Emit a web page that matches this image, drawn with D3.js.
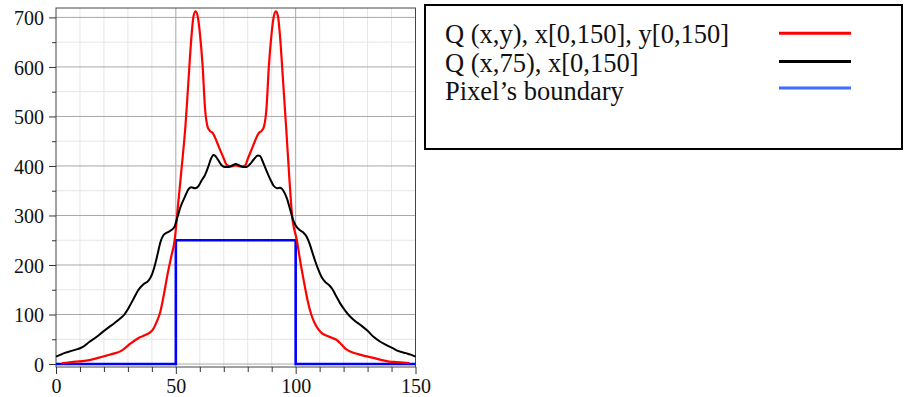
<!DOCTYPE html>
<html>
<head>
<meta charset="utf-8">
<script src="https://cdn.jsdelivr.net/npm/d3@7"></script>
<style>
  html, body { margin: 0; padding: 0; background: #fff; }
  svg { display: block; font-family: "Liberation Serif", "Times New Roman", serif; }
  .grid-minor line { stroke: #e6e6e6; stroke-width: 1; }
  .grid-major line { stroke: #a8a8a8; stroke-width: 1; }
  .axis path { display: none; }
  .axis line { stroke: #333; }
  .legend text { font-size: 26.5px; fill: #111; }
</style>
</head>
<body>
<svg id="chart" width="904" height="397"></svg>
<script>
// Q(x,y) over the whole window, x[0,150], y[0,150]
const redCurve = [
  [2.5, 2], [5, 3], [8, 5], [11, 6], [14, 8], [18, 13], [21, 17], [24, 21], [27, 26],
  [29, 33], [31, 41], [33, 48], [35, 54], [37, 58], [39, 63], [40.5, 70], [42, 85],
  [43.5, 105], [45, 140], [46.5, 180], [48, 215], [49.5, 250], [51, 325], [52.5, 400],
  [54, 480], [55.2, 567], [56.5, 660], [57.4, 703], [58.3, 712], [59.2, 700], [60.1, 665],
  [61.2, 600], [62.2, 515], [63.2, 480], [64.2, 471], [65.5, 466], [67, 450], [68.5, 432],
  [70, 415], [71.2, 402], [73, 399], [75, 401], [77, 399], [78.9, 401], [80, 414],
  [81.5, 432], [83, 450], [84.5, 466], [85.8, 471], [86.8, 480], [87.8, 515], [88.8, 600],
  [89.9, 665], [90.8, 700], [91.7, 712], [92.6, 703], [93.5, 660], [94.8, 567], [96, 480],
  [97.3, 380], [98.5, 300], [100.5, 250], [102, 205], [103.5, 165], [105, 128], [106.5, 100],
  [108, 82], [109.5, 70], [111, 62], [113, 57], [115, 53], [117, 49], [119, 40], [121, 30],
  [123.5, 24], [126, 20], [129, 16], [132, 13], [136, 8], [139, 5], [142, 4], [145, 3],
  [147.5, 2]
];

// Q(x,75), x[0,150]
const blackCurve = [
  [0, 15], [2, 19], [4, 23], [6, 26], [9, 30], [11, 34], [14, 45], [17, 55], [19.5, 65],
  [22, 74], [24.5, 83], [27, 93], [28.5, 100], [30.5, 115], [32.5, 133], [34.3, 149],
  [36.5, 161], [38.5, 168], [39.8, 178], [41, 195], [42.3, 220], [43.5, 245], [44.8, 260],
  [46.5, 266], [48, 270], [49.5, 278], [50.5, 294], [52, 318], [53.8, 338], [55.3, 353],
  [56.5, 357], [58, 355], [59.4, 359], [60.8, 371], [62.2, 382], [63.5, 398], [64.7, 415],
  [65.7, 422], [66.5, 420], [67.5, 413], [69, 402], [70.5, 398], [72, 398], [73.5, 401],
  [75, 404], [76.5, 401], [78, 398], [79.5, 398], [81, 404], [82.5, 413], [84.2, 421],
  [85.2, 420], [86, 412], [87, 400], [88.3, 385], [89.5, 372], [90.8, 360], [92.2, 355],
  [93.5, 356], [95, 349], [96.3, 335], [97.7, 312], [99, 290], [100, 280], [101.8, 270],
  [103.3, 265], [104.6, 257], [105.8, 243], [107, 225], [108.2, 207], [109.5, 190],
  [111, 174], [112.5, 165], [114, 159], [115.2, 152], [116.8, 138], [118.5, 123],
  [120.5, 109], [122.5, 97], [125, 86], [127, 79], [130, 67], [132.5, 55], [135, 46],
  [137.5, 39], [140.5, 32], [143, 26], [146, 22], [148, 19], [150, 15]
];

// pixel boundary step
const boundaryX = [0, 50, 50, 100, 100, 150];
const boundaryY = [0, 0, 250, 250, 0, 0];

const xMajorTicks = [0, 50, 100, 150];
const xMinorTicks = [10, 20, 30, 40, 60, 70, 80, 90, 110, 120, 130, 140];
const yMajorTicks = [0, 100, 200, 300, 400, 500, 600, 700];
const yMinorTicks = [50, 150, 250, 350, 450, 550, 650];

const legendLabels = ["Q (x,y), x[0,150], y[0,150]", "Q (x,75), x[0,150]", "Pixel\u2019s boundary"];
const legendColors = ["#ff0000", "#000000", "#3d6cff"];

(() => {
  const svg = d3.select("#chart");
  const serif = '"Liberation Serif", "Times New Roman", serif';

  const plot = { left: 56, right: 415.5, top: 8, bottom: 367 };

  const x = d3.scaleLinear().domain([0, 150]).range([plot.left, plot.right]);
  const y = d3.scaleLinear().domain([-6, 719]).range([plot.bottom, plot.top]);

  // grid, minor first then major
  const minor = svg.append("g").attr("class", "grid-minor");
  minor.selectAll("line.v").data(xMinorTicks).join("line")
    .attr("class", "v")
    .attr("x1", d => x(d)).attr("x2", d => x(d))
    .attr("y1", plot.top).attr("y2", plot.bottom);
  minor.selectAll("line.h").data(yMinorTicks).join("line")
    .attr("class", "h")
    .attr("x1", plot.left).attr("x2", plot.right)
    .attr("y1", d => y(d)).attr("y2", d => y(d));

  const major = svg.append("g").attr("class", "grid-major");
  major.selectAll("line.v").data(xMajorTicks.slice(1, -1)).join("line")
    .attr("class", "v")
    .attr("x1", d => x(d)).attr("x2", d => x(d))
    .attr("y1", plot.top).attr("y2", plot.bottom);
  major.selectAll("line.h").data(yMajorTicks).join("line")
    .attr("class", "h")
    .attr("x1", plot.left).attr("x2", plot.right)
    .attr("y1", d => y(d)).attr("y2", d => y(d));

  // frame
  svg.append("rect")
    .attr("x", plot.left).attr("y", plot.top)
    .attr("width", plot.right - plot.left).attr("height", plot.bottom - plot.top)
    .attr("fill", "none").attr("stroke", "#444").attr("stroke-width", 1);

  // axes (d3 puts sans-serif on the group, so override it there and on the texts)
  const styleLabels = g => {
    g.attr("font-family", serif).attr("font-size", 20);
    g.selectAll("text")
      .attr("font-family", serif)
      .style("font-family", serif)
      .style("font-size", "20px")
      .style("fill", "#111");
  };

  svg.append("g")
    .attr("class", "axis")
    .attr("transform", `translate(${plot.left},0)`)
    .call(d3.axisLeft(y).tickValues(yMajorTicks).tickSize(7).tickPadding(5).tickFormat(d3.format("d")))
    .call(styleLabels)
    .selectAll("text").attr("dy", "0.36em");
  svg.append("g")
    .attr("class", "axis")
    .attr("transform", `translate(${plot.left},0)`)
    .call(d3.axisLeft(y).tickValues(yMinorTicks).tickSize(4).tickFormat(""));

  svg.append("g")
    .attr("class", "axis")
    .attr("transform", `translate(0,${plot.bottom})`)
    .call(d3.axisBottom(x).tickValues(xMajorTicks).tickSize(7).tickPadding(0).tickFormat(d3.format("d")))
    .call(styleLabels)
    .selectAll("text").attr("y", 0).attr("dy", 0).attr("transform", "translate(0,26)");
  svg.append("g")
    .attr("class", "axis")
    .attr("transform", `translate(0,${plot.bottom})`)
    .call(d3.axisBottom(x).tickValues(xMinorTicks).tickSize(5).tickFormat(""));

  // curves
  const smooth = d3.line().x(d => x(d[0])).y(d => y(d[1])).curve(d3.curveMonotoneX);
  const straight = d3.line().x(d => x(d[0])).y(d => y(d[1]));

  svg.append("path")
    .datum(boundaryX.map((v, i) => [v, boundaryY[i]]))
    .attr("d", straight)
    .attr("fill", "none").attr("stroke", "#0000ff").attr("stroke-width", 2.6);

  svg.append("path")
    .datum(redCurve)
    .attr("d", smooth)
    .attr("fill", "none").attr("stroke", "#ff0000").attr("stroke-width", 2.2)
    .attr("stroke-linejoin", "round");

  svg.append("path")
    .datum(blackCurve)
    .attr("d", smooth)
    .attr("fill", "none").attr("stroke", "#000").attr("stroke-width", 2)
    .attr("stroke-linejoin", "round");

  // legend
  const legend = svg.append("g").attr("class", "legend");
  legend.append("rect")
    .attr("x", 425).attr("y", 5).attr("width", 477).attr("height", 144)
    .attr("fill", "#fff").attr("stroke", "#000").attr("stroke-width", 2);

  const rows = legend.selectAll("g.row").data(legendLabels).join("g")
    .attr("class", "row")
    .attr("transform", (d, i) => `translate(0,${i * 28.3})`);
  rows.append("text")
    .attr("x", 445).attr("y", 43.3)
    .text(d => d);
  rows.append("line")
    .attr("x1", 779).attr("x2", 851)
    .attr("y1", (d, i) => 33.3 - (i === 2 ? 2 : 0))
    .attr("y2", (d, i) => 33.3 - (i === 2 ? 2 : 0))
    .attr("stroke", (d, i) => legendColors[i])
    .attr("stroke-width", 3);
})();
</script>
</body>
</html>
